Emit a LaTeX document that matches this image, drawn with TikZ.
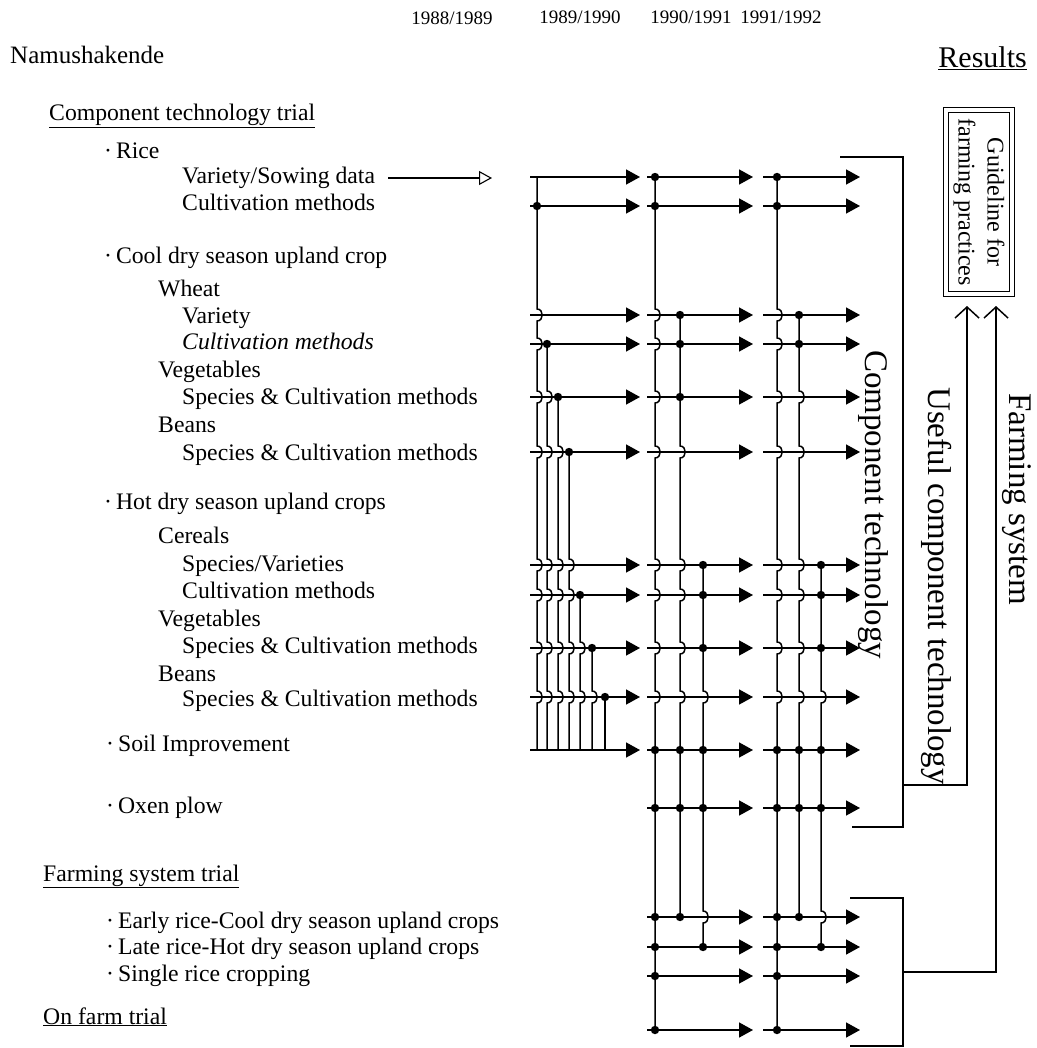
\documentclass[tikz,border=0pt]{standalone}
\usepackage{fontspec}
\setmainfont{Liberation Serif}
\usetikzlibrary{arrows.meta}
\tikzset{
  lbl/.style={anchor=west, inner sep=0pt, text height=17pt, text depth=5pt, font=\fontsize{23.7}{28}\selectfont},
  yr/.style={inner sep=0pt, font=\fontsize{19}{22}\selectfont},
  rotlbl/.style={anchor=west, rotate=-90, inner sep=0pt, font=\fontsize{33}{38}\selectfont},
  flowarrow/.style={line width=1.5pt, -{Triangle[length=14pt,width=15pt]}},
  trunkline/.style={line width=1.5pt},
  bracketline/.style={line width=1.5pt},
  uparrow/.style={line width=1.5pt, -{Straight Barb[length=11pt,width=24pt,line width=1.5pt]}},
}
\newcommand\vtrunk[4]{%
  \draw[trunkline] (#1,#2) \foreach \b in {#4}{ -- (#1,\b-6) .. controls (#1+7,\b-6) and (#1+7,\b+6) .. (#1,\b+6)} -- (#1,#3);%
}
\newcommand\jdots[2]{\foreach \d in {#2}{\fill (#1,\d) circle (4.2pt);}}
\begin{document}
\begin{tikzpicture}[x=1pt,y=-1pt]
\useasboundingbox (0,0) rectangle (1036,1048);
\fill[white] (0,0) rectangle (1036,1048);

% years
\node[yr] (y1) at (452,18) {1988/1989};
\node[yr] (y2) at (580,17) {1989/1990};
\node[yr] (y3) at (691,17) {1990/1991};
\node[yr] (y4) at (781,17) {1991/1992};

% headings
\node[lbl, font=\fontsize{25}{30}\selectfont] (nam) at (10,58) {Namushakende};
\node[lbl, anchor=east, font=\fontsize{30}{34}\selectfont] (res) at (1027,62) {\underline{Results}};

% left labels
\node[lbl] (ctt) at (49,115) {\underline{Component technology trial}};
\node[lbl] (rice) at (104,153) {·\hspace{4pt}Rice};
\node[lbl] (rvar) at (182,178) {Variety/Sowing data};
\node[lbl] (rcult) at (182,205) {Cultivation methods};
\node[lbl] (cool) at (104,258) {·\hspace{4pt}Cool dry season upland crop};
\node[lbl] (wheat) at (158,290) {Wheat};
\node[lbl] (wvar) at (182,317) {Variety};
\node[lbl] (wcult) at (182,343) {\itshape Cultivation methods};
\node[lbl] (cveg) at (158,371) {Vegetables};
\node[lbl] (cvegs) at (182,398) {Species \& Cultivation methods};
\node[lbl] (cbean) at (158,426) {Beans};
\node[lbl] (cbeans) at (182,454) {Species \& Cultivation methods};
\node[lbl] (hot) at (104,503) {·\hspace{4pt}Hot dry season upland crops};
\node[lbl] (cer) at (158,537) {Cereals};
\node[lbl] (cerv) at (182,565) {Species/Varieties};
\node[lbl] (cerc) at (182,592) {Cultivation methods};
\node[lbl] (hveg) at (158,620) {Vegetables};
\node[lbl] (hvegs) at (182,647) {Species \& Cultivation methods};
\node[lbl] (hbean) at (158,675) {Beans};
\node[lbl] (hbeans) at (182,700) {Species \& Cultivation methods};
\node[lbl] (soil) at (106,745) {·\hspace{4pt}Soil Improvement};
\node[lbl] (oxen) at (106,807) {·\hspace{4pt}Oxen plow};
\node[lbl] (fst) at (43,875) {\underline{Farming system trial}};
\node[lbl] (early) at (106,922) {·\hspace{4pt}Early rice-Cool dry season upland crops};
\node[lbl] (late) at (106,948) {·\hspace{4pt}Late rice-Hot dry season upland crops};
\node[lbl] (single) at (106,975) {·\hspace{4pt}Single rice cropping};
\node[lbl] (oft) at (43,1018) {\underline{On farm trial}};

% label arrow
\coordinate (la) at (388,178);
\coordinate (lb) at (492,178);
\draw[line width=1.1pt, -{Triangle[open,length=13pt,width=14pt]}] (la) -- (lb);

% row arrows
\def\rowsone{177,206,315,344,397,452,565,595,648,697,750}
\def\rowstwo{177,206,315,344,397,452,565,595,648,697,750,808,917,947,976,1030}
\foreach \r in \rowsone {\draw[flowarrow] (530,\r) -- (640,\r);}
\foreach \r in \rowstwo {\draw[flowarrow] (647,\r) -- (753,\r);}
\foreach \r in \rowstwo {\draw[flowarrow] (763,\r) -- (860,\r);}

% column 1 trunks
\vtrunk{537}{177}{750}{315,344,397,452,565,595,648,697}
\vtrunk{547}{344}{750}{397,452,565,595,648,697}
\vtrunk{558}{397}{750}{452,565,595,648,697}
\vtrunk{569}{452}{750}{565,595,648,697}
\vtrunk{580}{595}{750}{648,697}
\vtrunk{592}{648}{750}{697}
\draw[trunkline] (605,697) -- (605,750);
\jdots{537}{206}
\jdots{547}{344}
\jdots{558}{397}
\jdots{569}{452}
\jdots{580}{595}
\jdots{592}{648}
\jdots{605}{697}

% column 2 trunks
\vtrunk{655}{177}{1030}{315,344,397,452,565,595,648,697}
\jdots{655}{177,206,750,808,917,947,976,1030}
\vtrunk{680}{315}{917}{452,565,595,648,697}
\jdots{680}{315,344,397,750,808,917}
\vtrunk{703}{565}{947}{697,917}
\jdots{703}{565,595,648,750,808,947}

% column 3 trunks
\vtrunk{777}{177}{1030}{315,344,397,452,565,595,648,697}
\jdots{777}{177,206,750,808,917,947,976,1030}
\vtrunk{799}{315}{917}{397,452,565,595,648,697}
\jdots{799}{315,344,750,808,917}
\vtrunk{821}{565}{947}{697,917}
\jdots{821}{565,595,648,750,808,947}

% brackets
\draw[bracketline] (840,157) -- (903,157) -- (903,827) -- (852,827);
\draw[bracketline] (850,898) -- (903,898) -- (903,1046) -- (850,1046);

% rotated labels
\node[rotlbl] (ct) at (873,350) {Component technology};
\node[rotlbl] (uct) at (937,387) {Useful component technology};
\node[rotlbl] (fs) at (1017,393) {Farming system};

% guideline box
\node[draw, line width=1.2pt, double, double distance=4.5pt, rotate=-90,
      minimum width=184pt, minimum height=66pt, inner sep=0pt, align=center,
      font=\fontsize{24}{29}\selectfont] (guide) at (979,202) {Guideline for\\farming practices};

% result arrows
\coordinate (ua0) at (903,785);
\coordinate (ua1) at (967,785);
\coordinate (ua2) at (967,306);
\coordinate (fa0) at (903,972);
\coordinate (fa1) at (996,972);
\coordinate (fa2) at (996,306);
\draw[uparrow] (ua0) -- (ua1) -- (ua2);
\draw[uparrow] (fa0) -- (fa1) -- (fa2);
\end{tikzpicture}
\end{document}
